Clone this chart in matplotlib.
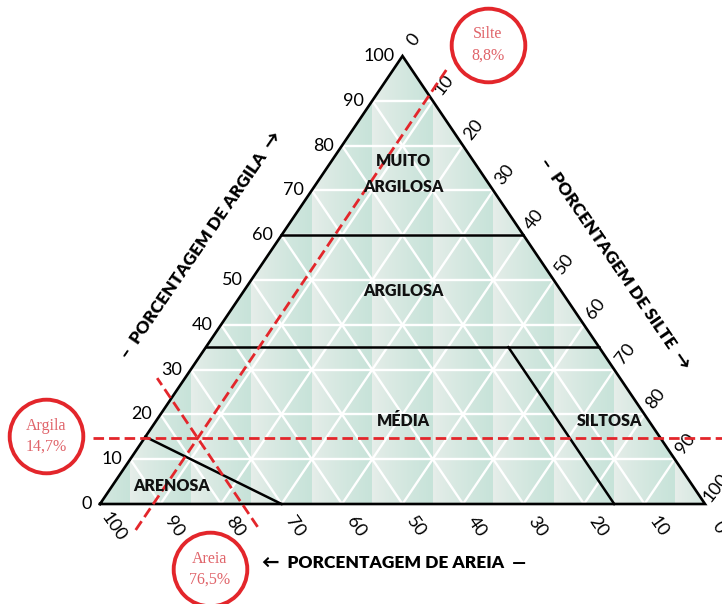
import numpy as np
import matplotlib.pyplot as plt
from matplotlib.patches import Polygon

# amostra (%)
sample_sand = 76.5
sample_silt = 8.8
sample_clay = 14.7

grid_levels = [10, 20, 30, 40, 50, 60, 70, 80, 90]
tick_values = [0, 10, 20, 30, 40, 50, 60, 70, 80, 90, 100]

# limites das classes, pontos (areia, silte, argila)
boundary_clay60 = [(40, 0, 60), (0, 40, 60)]
boundary_clay35 = [(65, 0, 35), (0, 65, 35)]
boundary_siltosa = [(15, 50, 35), (15, 85, 0)]
boundary_arenosa = [(85, 0, 15), (70, 30, 0)]

class_names = ['MUITO\nARGILOSA', 'ARGILOSA', 'MÉDIA', 'SILTOSA', 'ARENOSA']
class_pos = [(50.1, 73.6), (50.1, 47.5), (50.2, 18.5), (84.3, 18.5), (11.9, 4.1)]

callouts = [('Argila', '14,7%'), ('Silte', '8,8%'), ('Areia', '76,5%')]
callout_pos = [(-8.9, 15.2), (64.1, 102.5), (18.1, -14.6)]

PX_X = 6.05   # pixels por unidade, horizontal
PX_Y = 4.48   # pixels por unidade, vertical

RED = '#e3262b'
LIGHT = np.array([231, 238, 234]) / 255
DARK = np.array([199, 227, 217]) / 255


def tern(sand, silt, clay):
    return silt + clay / 2.0, clay


def line(ax, pts, **kw):
    xy = [tern(*p) for p in pts]
    ax.plot([p[0] for p in xy], [p[1] for p in xy], **kw)


plt.rcParams['font.family'] = ['Lato', 'DejaVu Sans']

fig = plt.figure(figsize=(7.22, 6.04), dpi=100)
ax = fig.add_axes([0, 0, 1, 1])
ax.set_xlim(-100 / PX_X, 622 / PX_X)
ax.set_ylim(-100 / PX_Y, 504 / PX_Y)
ax.axis('off')

# fundo com degradê
tri = Polygon([tern(100, 0, 0), tern(0, 100, 0), tern(0, 0, 100)], closed=True,
              facecolor='none', edgecolor='none', transform=ax.transData)
ax.add_patch(tri)
cols = np.arange(605) + 0.5
t = ((cols - 30.25) % 60.5) / 60.5
t = t ** 0.8
img = LIGHT[None, :] * (1 - t[:, None]) + DARK[None, :] * t[:, None]
im = ax.imshow(img[None, :, :], extent=(0, 100, 0, 100), aspect='auto', zorder=1,
               interpolation='nearest')
im.set_clip_path(tri)

# grade
for g in grid_levels:
    line(ax, [(100 - g, 0, g), (0, 100 - g, g)], color='white', lw=1.7, zorder=2)
    line(ax, [(g, 100 - g, 0), (g, 0, 100 - g)], color='white', lw=1.7, zorder=2)
    line(ax, [(100 - g, g, 0), (0, g, 100 - g)], color='white', lw=1.7, zorder=2)

# contorno e classes
line(ax, [(100, 0, 0), (0, 100, 0), (0, 0, 100), (100, 0, 0)], color='black', lw=1.9,
     zorder=3, solid_joinstyle='miter')
for b in [boundary_clay60, boundary_clay35, boundary_siltosa, boundary_arenosa]:
    line(ax, b, color='black', lw=1.8, zorder=3)

for name, (x, y) in zip(class_names, class_pos):
    ax.text(x, y, name, ha='center', va='center', fontsize=11.5, fontweight='heavy',
            linespacing=1.75, color='#111111', zorder=5)

# linhas da amostra
dash = dict(color=RED, lw=2.0, dashes=(3.8, 1.8), zorder=4)
ax.plot([-1.2, 103], [sample_clay, sample_clay], **dash)
line(ax, [(100 - sample_silt + 5.8, sample_silt, -5.8),
          (100 - sample_silt - 97.3, sample_silt, 97.3)], **dash)
line(ax, [(sample_sand, 100 - sample_sand + 5.1, -5.1),
          (sample_sand, 100 - sample_sand - 28.1, 28.1)], **dash)

# rótulos dos eixos
for v in tick_values:
    ax.annotate(str(v), tern(100 - v, 0, v), xytext=(-6, 0), textcoords='offset points',
                ha='right', va='center', fontsize=13, annotation_clip=False)
    ax.annotate(str(v), tern(0, v, 100 - v), xytext=(8, 11.5), textcoords='offset points',
                ha='center', va='center', rotation=52, rotation_mode='anchor',
                fontsize=13, annotation_clip=False)
    ax.annotate(str(v), tern(v, 100 - v, 0), xytext=(10, -16.5), textcoords='offset points',
                ha='center', va='center', rotation=-55, rotation_mode='anchor',
                fontsize=13, annotation_clip=False)

title_kw = dict(ha='center', va='center', fontsize=12.5, fontweight='heavy')
ax.text(16.6, 57.8, '–  PORCENTAGEM DE ARGILA  →', rotation=55.5,
        rotation_mode='anchor', **title_kw)
ax.text(85.1, 53.6, '–  PORCENTAGEM DE SILTE  →', rotation=-55.5,
        rotation_mode='anchor', **title_kw)
ax.text(48.6, -13.2, '←  PORCENTAGEM DE AREIA  —', **title_kw)

# destaques
cx = [p[0] for p in callout_pos]
cy = [p[1] for p in callout_pos]
ax.scatter(cx, cy, s=53 ** 2, facecolor='white', edgecolor=RED, linewidth=2.8,
           zorder=6, clip_on=False)
for (a, b), (x, y) in zip(callouts, callout_pos):
    ax.text(x, y, a + '\n' + b, ha='center', va='center', fontsize=11.5, color='#e0646a',
            family='Liberation Serif', linespacing=1.4, zorder=7)

fig.savefig('out.png', dpi=100)
